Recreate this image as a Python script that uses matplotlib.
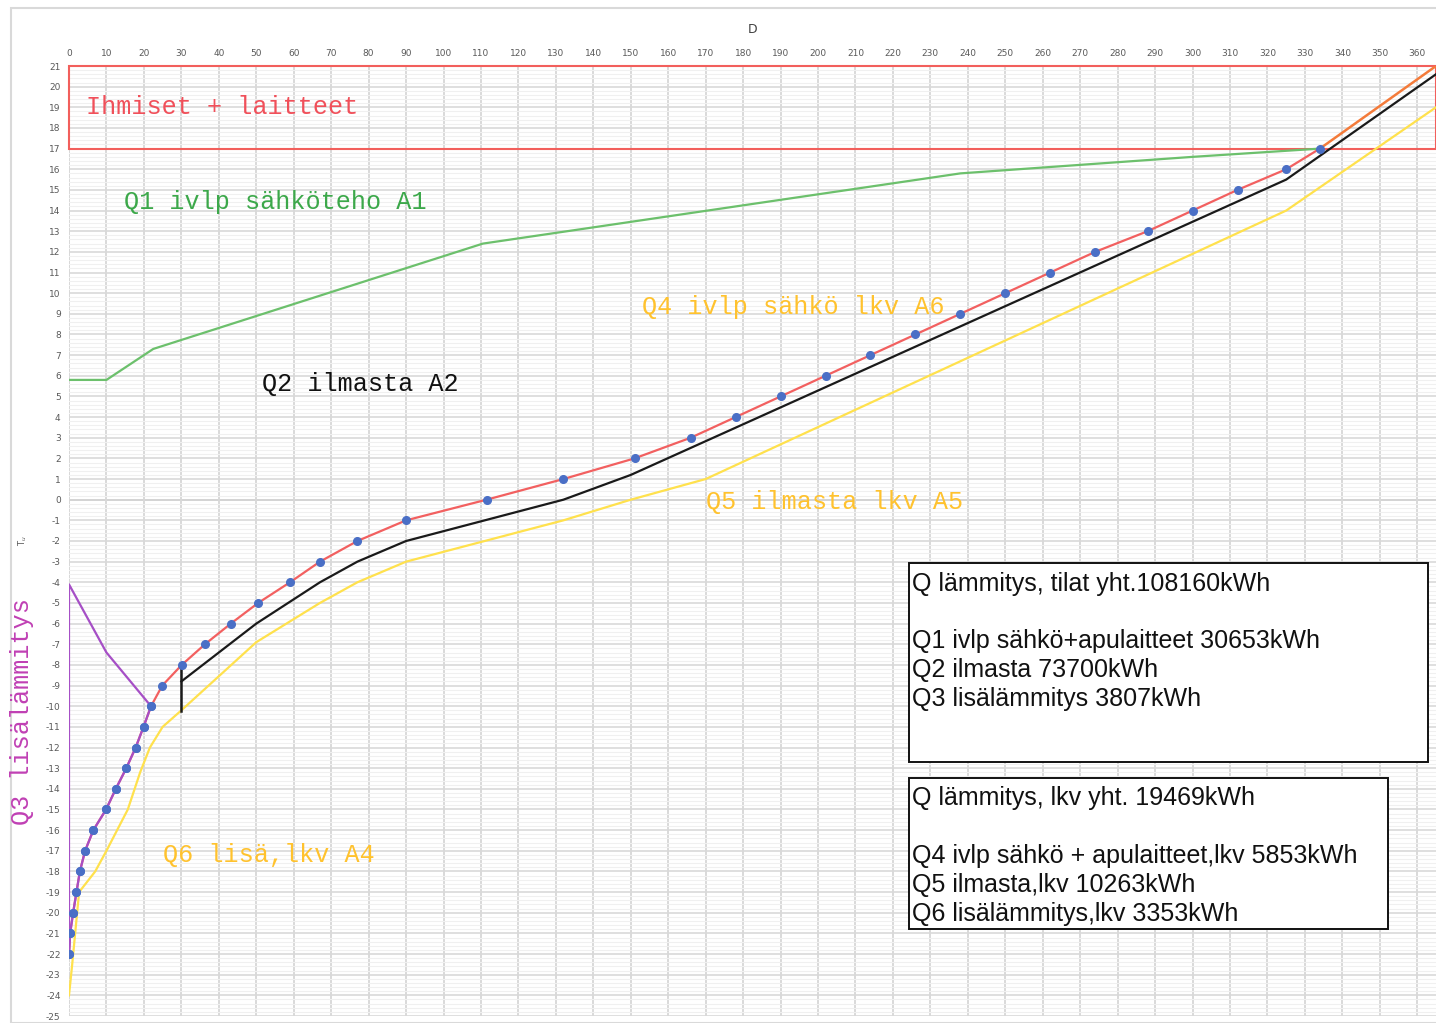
import matplotlib
matplotlib.use("Agg")
import matplotlib.pyplot as plt
from matplotlib.patches import Rectangle
from matplotlib.ticker import MultipleLocator

plt.rcParams["axes.unicode_minus"] = False

# ---------------- data ----------------
# outdoor temperature duration curve (red, with markers)
dur_days = [0, 0.3, 1.1, 2.0, 2.9, 4.3, 6.5, 9.9, 12.5, 15.3, 17.8, 19.9, 21.9,
            24.9, 30.1, 36.3, 43.2, 50.5, 59, 67, 77, 90, 111.5, 132, 151, 166,
            178, 190, 202, 214, 226, 238, 250, 262, 274, 288, 300, 312, 325, 334]
dur_temp = [-22, -21, -20, -19, -18, -17, -16, -15, -14, -13, -12, -11, -10,
            -9, -8, -7, -6, -5, -4, -3, -2, -1, 0, 1, 2, 3,
            4, 5, 6, 7, 8, 9, 10, 11, 12, 13, 14, 15, 16, 17]
# continuation above 17 °C (orange)
ext_days = [334, 365]
ext_temp = [17, 21]

# Q1 ivlp electric power (green)
q1_days = [0, 10, 22.5, 110.5, 238, 300, 334]
q1_vals = [5.8, 5.8, 7.3, 12.4, 15.8, 16.6, 17]

# Q2 boundary (black)
q2_days = [30, 50, 67, 77, 90, 111, 132, 150, 325, 365]
q2_vals = [-8.8, -6.0, -4.0, -3.0, -2.0, -1.0, 0.0, 1.2, 15.5, 20.6]
q2_step_days = [30, 30]
q2_step_vals = [-8.0, -10.25]

# Q5 boundary (yellow)
q5_days = [0, 0.8, 2.7, 7, 10, 15.7, 19, 21.6, 25, 30, 50, 67, 77, 90, 111,
           132, 150, 170, 325, 365]
q5_vals = [-24, -22.6, -19, -18, -17, -15, -13.2, -12, -11, -10.2, -6.9, -5,
           -4, -3, -2, -1, 0, 1, 14, 19]

# Q3 additional heating (purple)
q3_days = [0, 0, 10, 21.9, 19.9, 17.8, 15.3, 12.5, 9.9, 6.5, 4.3, 2.9, 2.0,
           1.1, 0.3, 0]
q3_vals = [-22, -4.1, -7.4, -10, -11, -12, -13, -14, -15, -16, -17, -18, -19,
           -20, -21, -22]

x_ticks = list(range(0, 361, 10))
y_ticks = list(range(-25, 22))

box1_lines = ["Q lämmitys, tilat yht.108160kWh", "",
              "Q1 ivlp sähkö+apulaitteet 30653kWh",
              "Q2 ilmasta 73700kWh",
              "Q3 lisälämmitys 3807kWh"]
box2_lines = ["Q lämmitys, lkv yht. 19469kWh", "",
              "Q4 ivlp sähkö + apulaitteet,lkv 5853kWh",
              "Q5 ilmasta,lkv 10263kWh",
              "Q6 lisälämmitys,lkv 3353kWh"]

# ---------------- figure ----------------
W, H = 1436, 1023
fig = plt.figure(figsize=(W / 100, H / 100), dpi=100)
fig.patch.set_facecolor("white")

# outer chart-area frame
fig.add_artist(Rectangle((11 / W, 0), 1.2, 1 - 8 / H, transform=fig.transFigure,
                         fill=False, edgecolor="#d9d9d9", lw=1.5))

ax = fig.add_axes([69 / W, 1 - 1016 / H, (1436 - 69) / W, (1016 - 66) / H])
ax.set_xlim(0, 365)
ax.set_ylim(-25, 21)

ax.xaxis.tick_top()
ax.xaxis.set_label_position("top")
ax.set_xticks(x_ticks)
ax.set_yticks(y_ticks)
ax.yaxis.set_minor_locator(MultipleLocator(0.2))
ax.tick_params(axis="both", which="both", length=0, labelsize=6.5,
               colors="#595959", pad=6)
ax.tick_params(axis="y", which="minor", length=0)
for s in ax.spines.values():
    s.set_visible(False)

ax.grid(True, which="major", axis="x", color="#d9d9d9", lw=1.4, zorder=0)
ax.grid(True, which="major", axis="y", color="#d9d9d9", lw=1.2, zorder=0)
ax.grid(True, which="minor", axis="y", color="#f0f0f0", lw=0.8, zorder=0)
ax.axhline(0, color="#bfbfbf", lw=1.4, zorder=0.5)
ax.axvline(0, color="#bfbfbf", lw=1.4, zorder=0.5)

ax.set_xlabel("D", fontsize=9, color="#404040", labelpad=11)
ax.set_ylabel(r"T$_u$", fontsize=6, color="#595959", labelpad=12)

# red box "Ihmiset + laitteet"
ax.add_patch(Rectangle((0, 17), 365, 4, fill=False, edgecolor="#f25f5c",
                       lw=1.5, zorder=3, clip_on=False))

# lines
ax.plot(q5_days, q5_vals, color="#ffe14d", lw=1.6, zorder=3)
ax.plot(q1_days, q1_vals, color="#6cc06c", lw=1.6, zorder=3)
ax.plot(q2_days, q2_vals, color="#1a1a1a", lw=1.6, zorder=4)
ax.plot(q2_step_days, q2_step_vals, color="#1a1a1a", lw=1.8, zorder=4)
ax.plot(ext_days, ext_temp, color="#f47b3a", lw=1.8, zorder=4)
ax.plot(dur_days, dur_temp, color="#f26060", lw=1.6, zorder=5,
        marker="o", markersize=5.5, markerfacecolor="#4a6fc6",
        markeredgecolor="#4a6fc6")
ax.plot(q3_days, q3_vals, color="#a64fc6", lw=1.6, zorder=6)
ax.plot(dur_days[:13], dur_temp[:13], linestyle="none", marker="o",
        markersize=5.5, markerfacecolor="#4a6fc6", markeredgecolor="#4a6fc6",
        zorder=7)

mono = "Liberation Mono"
fs = 18.1
ax.text(4.5, 19.0, "Ihmiset + laitteet", color="#f0505a", family=mono,
        fontsize=fs, va="center", ha="left", zorder=8)
ax.text(14.6, 14.4, "Q1 ivlp sähköteho A1", color="#3ca84a", family=mono,
        fontsize=fs, va="center", ha="left", zorder=8)
ax.text(51.5, 5.6, "Q2 ilmasta A2", color="#111111", family=mono,
        fontsize=fs, va="center", ha="left", zorder=8)
ax.text(153, 9.35, "Q4 ivlp sähkö lkv A6", color="#ffc22e", family=mono,
        fontsize=fs, va="center", ha="left", zorder=8)
ax.text(170, -0.1, "Q5 ilmasta lkv A5", color="#ffc22e", family=mono,
        fontsize=fs, va="center", ha="left", zorder=8)
ax.text(25, -17.2, "Q6 lisä,lkv A4", color="#ffc22e", family=mono,
        fontsize=fs, va="center", ha="left", zorder=8)
fig.text(22 / W, 1 - 712 / H, "Q3 lisälämmitys", color="#c040b4", family=mono,
         fontsize=fs, rotation=90, va="center", ha="center")

# text boxes
ax.add_patch(Rectangle((224.2, -12.69), 362.9 - 224.2, 12.69 - 3.05,
                       facecolor="white", edgecolor="#111111", lw=1.4, zorder=9))
ax.add_patch(Rectangle((224.2, -20.8), 352.2 - 224.2, 20.8 - 13.46,
                       facecolor="white", edgecolor="#111111", lw=1.4, zorder=9))
ax.text(225.0, -3.48, "\n".join(box1_lines), family="Liberation Sans",
        fontsize=18, color="#111111", va="top", ha="left", linespacing=1.26,
        zorder=10)
ax.text(225.0, -13.87, "\n".join(box2_lines), family="Liberation Sans",
        fontsize=18, color="#111111", va="top", ha="left", linespacing=1.26,
        zorder=10)

fig.savefig("out.png", dpi=100, facecolor="white")
